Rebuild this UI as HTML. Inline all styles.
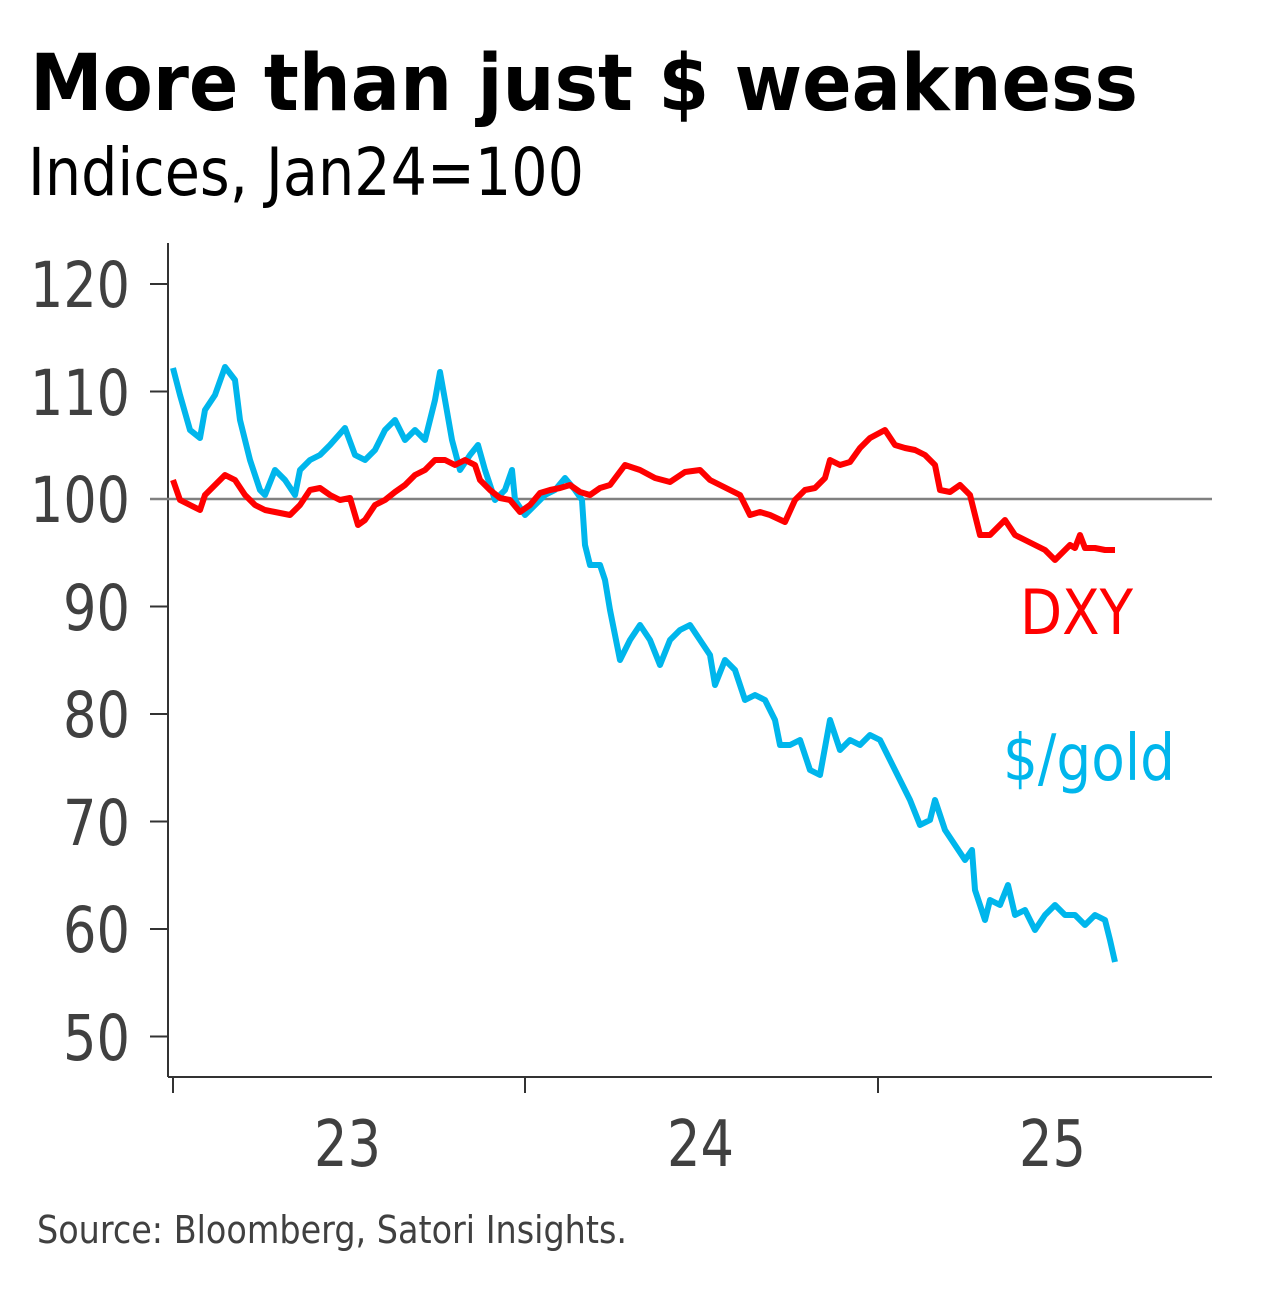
<!DOCTYPE html>
<html><head><meta charset="utf-8"><style>
html,body{margin:0;padding:0;background:#fff;}
svg{display:block;}
text{font-family:"DejaVu Sans","Liberation Sans",sans-serif;}
</style></head><body>
<svg width="1288" height="1291" viewBox="0 0 1288 1291" xmlns="http://www.w3.org/2000/svg">
<text x="30" y="110" font-size="78" font-weight="bold" fill="#000" textLength="1108" lengthAdjust="spacingAndGlyphs">More than just $ weakness</text>
<text x="28" y="195" font-size="66" fill="#000" textLength="556" lengthAdjust="spacingAndGlyphs">Indices, Jan24=100</text>
<g stroke="#333" stroke-width="2" fill="none">
<line x1="168" y1="243" x2="168" y2="1077"/>
<line x1="168" y1="1077" x2="1212" y2="1077"/>
<line x1="150" y1="284" x2="168" y2="284"/>
<line x1="150" y1="391.5" x2="168" y2="391.5"/>
<line x1="150" y1="606.5" x2="168" y2="606.5"/>
<line x1="150" y1="714" x2="168" y2="714"/>
<line x1="150" y1="821.5" x2="168" y2="821.5"/>
<line x1="150" y1="929" x2="168" y2="929"/>
<line x1="150" y1="1036.5" x2="168" y2="1036.5"/>
<line x1="173" y1="1077" x2="173" y2="1093"/>
<line x1="525" y1="1077" x2="525" y2="1093"/>
<line x1="878" y1="1077" x2="878" y2="1093"/>
</g>
<line x1="150" y1="499" x2="1212" y2="499" stroke="#808080" stroke-width="2.5"/>
<g font-size="63" fill="#404040">
<text x="30" y="307" textLength="100" lengthAdjust="spacingAndGlyphs">120</text>
<text x="30" y="415" textLength="100" lengthAdjust="spacingAndGlyphs">110</text>
<text x="30" y="522" textLength="100" lengthAdjust="spacingAndGlyphs">100</text>
<text x="63" y="630" textLength="67" lengthAdjust="spacingAndGlyphs">90</text>
<text x="63" y="737" textLength="67" lengthAdjust="spacingAndGlyphs">80</text>
<text x="63" y="845" textLength="67" lengthAdjust="spacingAndGlyphs">70</text>
<text x="63" y="952" textLength="67" lengthAdjust="spacingAndGlyphs">60</text>
<text x="63" y="1060" textLength="67" lengthAdjust="spacingAndGlyphs">50</text>
</g>
<g font-size="64" fill="#404040">
<text x="314" y="1166" textLength="67" lengthAdjust="spacingAndGlyphs">23</text>
<text x="667" y="1166" textLength="67" lengthAdjust="spacingAndGlyphs">24</text>
<text x="1019" y="1166" textLength="67" lengthAdjust="spacingAndGlyphs">25</text>
</g>
<text x="37" y="1243" font-size="38" fill="#404040" textLength="590" lengthAdjust="spacingAndGlyphs">Source: Bloomberg, Satori Insights.</text>
<polyline fill="none" stroke="#00b6ec" stroke-width="6" stroke-linejoin="round" points="173,368 180,395 190,430 200,438 205,410 215,395 225,367 235,380 240,420 250,460 260,490 265,495 275,470 285,480 295,495 300,470 310,460 320,455 330,445 345,428 355,455 365,460 375,450 385,430 395,420 405,440 415,430 425,440 435,400 440,372 445,400 452,440 460,470 470,455 478,445 485,470 495,500 505,490 512,470 515,500 525,515 535,505 545,495 555,490 565,478 575,490 582,500 585,545 590,565 600,565 605,580 610,610 620,660 630,640 640,625 650,640 660,665 670,640 680,630 690,625 700,640 710,655 715,685 725,660 735,670 745,700 755,695 765,700 775,720 780,745 790,745 800,740 810,770 820,775 830,720 840,750 850,740 860,745 870,735 880,740 890,760 900,780 910,800 920,825 930,820 935,800 945,830 955,845 965,860 972,850 975,890 985,920 990,900 1000,905 1008,885 1015,915 1025,910 1035,930 1045,915 1055,905 1065,915 1075,915 1085,925 1095,915 1105,920 1110,940 1115,962"/>
<polyline fill="none" stroke="#ff0000" stroke-width="6" stroke-linejoin="round" points="173,480 180,500 190,505 200,510 205,495 215,485 225,475 235,480 245,495 255,505 265,510 275,512 290,515 300,505 310,490 320,488 330,495 340,500 350,498 358,525 365,520 375,505 385,500 395,492 405,485 415,475 425,470 435,460 445,460 455,465 465,460 475,465 480,480 490,490 500,498 510,500 520,512 530,505 540,493 550,490 560,488 570,485 580,492 590,495 600,488 610,485 625,465 640,470 655,478 670,482 685,472 700,470 710,480 720,485 730,490 740,495 750,515 760,512 770,515 785,522 795,500 805,490 815,488 825,478 830,460 840,465 850,462 860,448 870,438 885,430 895,445 905,448 915,450 925,455 935,465 940,490 950,492 960,485 970,495 980,535 990,535 1000,525 1005,520 1015,535 1025,540 1035,545 1045,550 1055,560 1065,550 1070,545 1075,548 1080,535 1085,548 1095,548 1105,550 1115,550"/>
<text x="1020" y="634" font-size="62" fill="#ff0000" textLength="113" lengthAdjust="spacingAndGlyphs">DXY</text>
<text x="1003" y="780" font-size="64" fill="#00b6ec" textLength="172" lengthAdjust="spacingAndGlyphs">$/gold</text>
</svg>
</body></html>
